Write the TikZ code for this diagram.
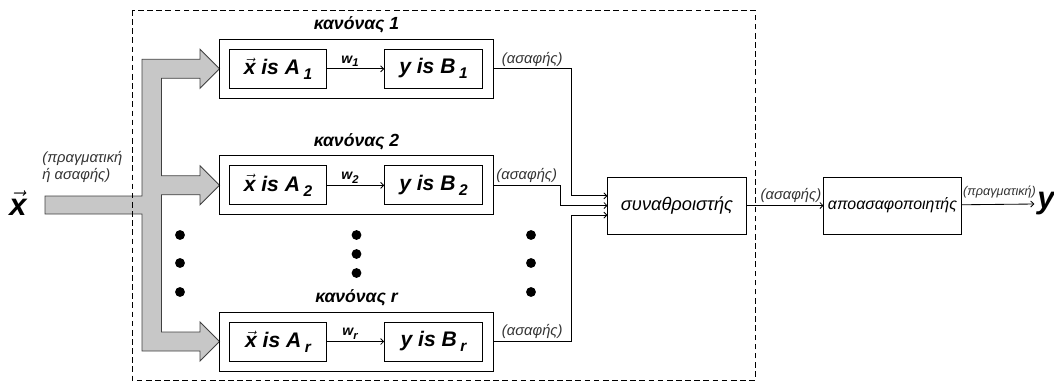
\documentclass[tikz,border=0pt]{standalone}
\usepackage{fontspec}
\setmainfont{Liberation Sans}
\usetikzlibrary{arrows.meta,positioning}
\tikzset{>={Straight Barb[scale=.8]}}
\newcommand{\vx}{$\vec{\mbox{x}}$}
\newcommand{\lo}[1]{\,\raisebox{-.45ex}{\fontsize{11}{11}\selectfont #1}}

\tikzset{
  rulebox/.style={draw, line width=.7pt, minimum width=6.825cm, minimum height=1.475cm},
  partbox/.style={draw, line width=.7pt, minimum width=2.44cm, minimum height=.975cm,
    inner sep=0pt, font=\fontsize{15}{17}\selectfont\bfseries\itshape},
  procbox/.style={draw, line width=.7pt, minimum height=1.425cm, inner sep=0pt},
  rulelbl/.style={inner sep=1pt, font=\fontsize{12.5}{14}\selectfont\bfseries\itshape},
  fuzzlbl/.style={inner sep=1.5pt, text=black!80, font=\fontsize{10.5}{12}\selectfont\itshape},
  wlbl/.style={inner sep=1pt, font=\fontsize{10}{11}\selectfont\bfseries\itshape},
  graybar/.style={fill=black!22, draw=black!75, line width=.6pt},
  conn/.style={->, line width=.6pt}
}

\begin{document}
\begin{tikzpicture}[x=0.025cm, y=-0.025cm]
        \useasboundingbox (0,0) rectangle (1054,383);
        % input arrow
        \filldraw[graybar] (45,196) -- (142,196) -- (142,59.3) -- (200,59.3) -- (200,49.3)
          -- (219.5,68.8) -- (200,88.3) -- (200,78.3) -- (161.5,78.3) -- (161.5,175.8)
          -- (200,175.8) -- (200,165.8) -- (219.5,185.3) -- (200,204.8) -- (200,194.8)
          -- (161.5,194.8) -- (161.5,332) -- (200,332) -- (200,322) -- (219.5,341.5)
          -- (200,361) -- (200,351) -- (142,351) -- (142,214) -- (45,214) -- cycle;
        \node[font=\fontsize{22}{24}\selectfont\bfseries\itshape, inner sep=1pt] (xin) at (18,203) {\vx};
        \node[fuzzlbl, align=left, anchor=west] (inlbl) at (40,167) {(πραγματική\\ή ασαφής)};
        % fuzzy system frame
        \draw[dash pattern=on 4pt off 2.5pt, line width=.6pt] (132,10) rectangle (755,380);
        % rules
        \foreach \i/\yy in {1/68.8, 2/185.3, r/341.5} {
          \node[rulebox] (r\i) at (356.5,\yy) {};
          \node[partbox] (a\i) at (278,\yy) {\vx{} is A\lo{\i}};
          \node[partbox] (b\i) at (433.5,\yy) {y is B\lo{\i}};
          \node[rulelbl, above=1mm of r\i] (l\i) {κανόνας \i};
          \draw[conn] (a\i) -- node[wlbl, above, pos=.4] {w\raisebox{-.5ex}{\fontsize{8}{8}\selectfont\i}} (b\i);
        }
        % dots
        \foreach \xx in {180,531}
          \foreach \yy in {235,263,292}
            \fill (\xx,\yy) circle (3.5pt);
        \foreach \yy in {235,254,273}
          \fill (356.5,\yy) circle (3.5pt);
        % aggregator and defuzzifier
        \node[procbox, minimum width=3.45cm, font=\fontsize{13}{15}\selectfont\itshape] (agg) at (677,205.5) {συναθροιστής};
        \node[procbox, minimum width=3.425cm, font=\fontsize{11.3}{13}\selectfont\itshape] (def) at (892.5,205.5) {αποασαφοποιητής};
        \node[font=\fontsize{22}{24}\selectfont\bfseries\itshape, inner sep=0pt] (yout) at (1046,204) {y};
        \coordinate (in1) at ([yshift=.24cm]agg.west);
        \coordinate (in2) at (agg.west);
        \coordinate (inr) at ([yshift=-.24cm]agg.west);
        \coordinate (j1) at (571,0);
        \coordinate (j2) at (560,0);
        % lines
        \draw[conn] (r1.east) -- node[fuzzlbl, above] {(ασαφής)} (r1.east -| j1) |- (in1);
        \draw[conn] (r2.east) -- node[fuzzlbl, above] {(ασαφής)} (r2.east -| j2) |- (in2);
        \draw[conn] (rr.east) -- node[fuzzlbl, above] {(ασαφής)} (rr.east -| j1) |- (inr);
        \draw[conn] (agg) -- node[fuzzlbl, above, xshift=.15cm] {(ασαφής)} (def);
        \draw[conn] (def) -- ([xshift=-2pt]yout.west);
        \node[fuzzlbl, font=\fontsize{9}{11}\selectfont\itshape, inner sep=0pt, anchor=south west] (outlbl) at ([xshift=1pt, yshift=5pt]def.east) {(πραγματική)};
      \end{tikzpicture}
\end{document}
